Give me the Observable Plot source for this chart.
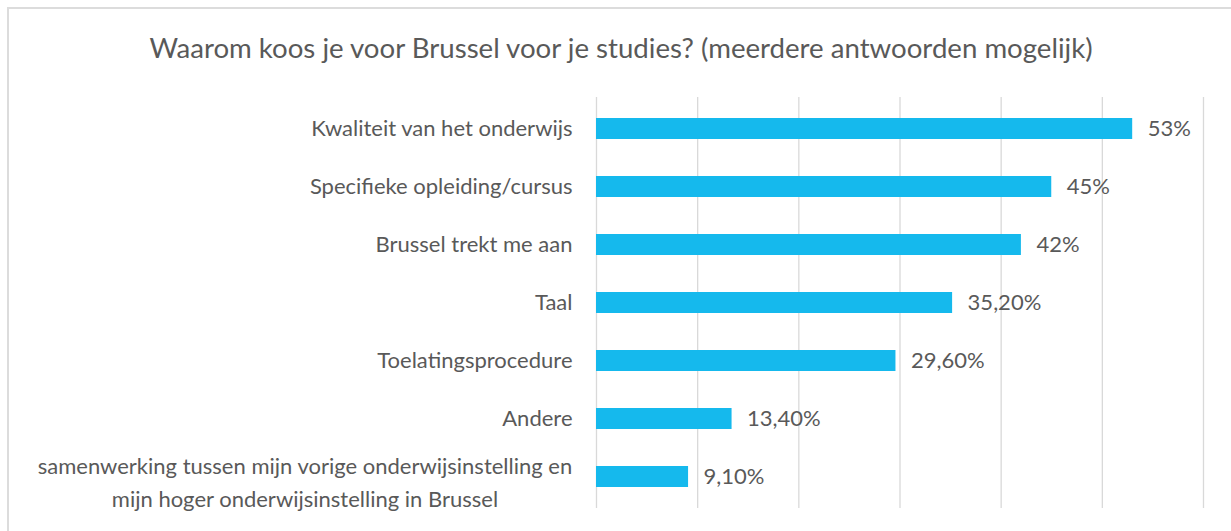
<!DOCTYPE html>
<html>
<head>
<meta charset="utf-8">
<script src="https://cdn.jsdelivr.net/npm/d3@7"></script>
<script src="https://cdn.jsdelivr.net/npm/@observablehq/plot@0.6"></script>
<style>
  html, body { margin: 0; padding: 0; background: #fff; }
  #wrap { position: relative; width: 1231px; height: 531px; overflow: hidden; font-family: Lato, "Open Sans", sans-serif; }
  #frame { position: absolute; left: 7px; top: 7px; width: 1300px; height: 600px; border-left: 2px solid #dcdcdc; border-top: 2px solid #dcdcdc; box-sizing: border-box; }
  #title { position: absolute; left: 8px; width: 1226px; top: 0; height: 80px; line-height: 96px; text-align: center; color: #595959; white-space: nowrap; }
  #chart { position: absolute; left: 0; top: 80px; }
</style>
</head>
<body>
<div id="wrap">
  <div id="frame"></div>
  <div id="title"></div>
  <div id="chart"></div>
</div>
<script>
const titleText = "Waarom koos je voor Brussel voor je studies? (meerdere antwoorden mogelijk)";
const categories = [
  "Kwaliteit van het onderwijs",
  "Specifieke opleiding/cursus",
  "Brussel trekt me aan",
  "Taal",
  "Toelatingsprocedure",
  "Andere",
  "samenwerking tussen mijn vorige onderwijsinstelling en\nmijn hoger onderwijsinstelling in Brussel"
];
const values = [53, 45, 42, 35.2, 29.6, 13.4, 9.1];
const valueLabels = ["53%", "45%", "42%", "35,20%", "29,60%", "13,40%", "9,10%"];
const xTicks = [0, 10, 20, 30, 40, 50, 60];

const FONT = "Lato";
const TEXT = "#595959";

// measure text widths to size fonts like the reference
const ctx = document.createElement("canvas").getContext("2d");
function measure(s, size) { ctx.font = `${size}px ${FONT}`; return ctx.measureText(s).width; }
const titleSize = 24 * 946 / measure(titleText, 24);
const labelSize = 19 * 262 / measure(categories[0], 19);

const titleEl = document.getElementById("title");
titleEl.textContent = titleText;
titleEl.style.fontSize = titleSize + "px";
titleEl.style.fontFamily = FONT;

const data = categories.map((c, i) => ({cat: c, value: values[i], label: valueLabels[i]}));
const single = data.filter(d => !d.cat.includes("\n"));
const multi = data.filter(d => d.cat.includes("\n"));
const multiWidth = multi.length ? d3.max(multi[0].cat.split("\n"), l => measure(l, labelSize)) : 0;

const chart = Plot.plot({
  width: 1231,
  height: 451,
  marginLeft: 596,
  marginRight: 28,
  marginTop: 17,
  marginBottom: 23,
  style: { fontFamily: FONT, color: TEXT, background: "transparent" },
  x: { domain: [0, 60], axis: null },
  y: { domain: categories, paddingInner: 0.64, paddingOuter: 0.32, axis: null },
  marks: [
    Plot.ruleX(xTicks, { stroke: "#d9d9d9", strokeWidth: 1.3 }),
    Plot.barX(data, { y: "cat", x: "value", fill: "#15b9ed" }),
    Plot.text(data, { y: "cat", x: "value", text: "label", textAnchor: "start", dx: 15, fontSize: labelSize, fill: TEXT }),
    Plot.text(single, { y: "cat", text: "cat", frameAnchor: "left", textAnchor: "end", dx: -24, fontSize: labelSize, fill: TEXT }),
    Plot.text(multi, { y: "cat", text: "cat", frameAnchor: "left", textAnchor: "middle", dx: -(24 + multiWidth / 2), dy: 3, lineHeight: 1.5, fontSize: labelSize, fill: TEXT })
  ]
});
document.getElementById("chart").appendChild(chart);
</script>
</body>
</html>
